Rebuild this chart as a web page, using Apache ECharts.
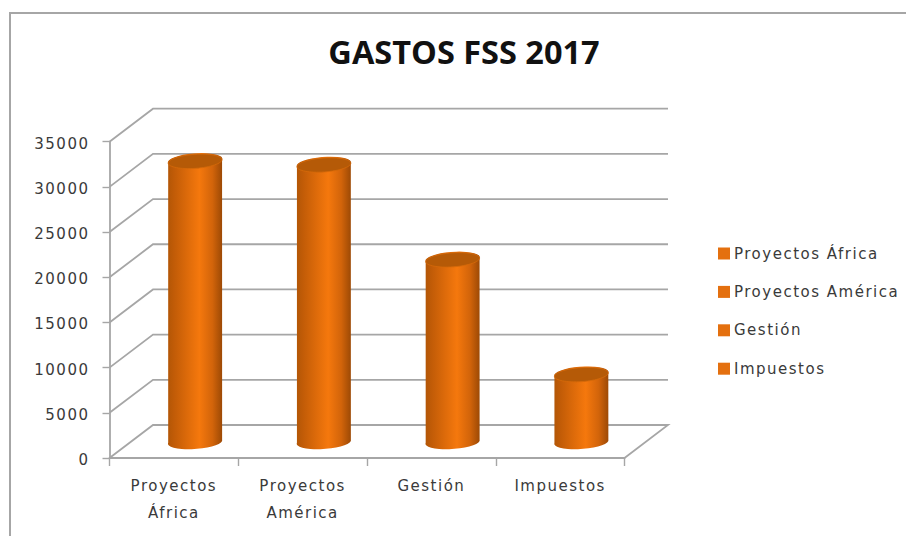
<!DOCTYPE html>
<html><head><meta charset="utf-8">
<script src="https://cdn.jsdelivr.net/npm/echarts@6/dist/echarts.min.js"></script>
<style>
html,body{margin:0;padding:0;background:#fff}
#c{width:906px;height:536px}
svg text{letter-spacing:1.5px}
svg text[style*="bold"]{letter-spacing:0}
</style></head><body><div id="c"></div>
<script>
var categories = ['Proyectos África','Proyectos América','Gestión','Impuestos'];
var axisLabels = ['Proyectos\nÁfrica','Proyectos\nAmérica','Gestión','Impuestos'];
var gastos = [31000,30600,20100,7400];
var yTicks = [0,5000,10000,15000,20000,25000,30000,35000];
var DX = 43.5, DY = 33;
var GRAY = '#a6a6a6';
var chart = echarts.init(document.getElementById('c'), null, {renderer:'svg'});

function wallItem(params, api){
  var cs = params.coordSys;
  var p = api.coord([categories[0], api.value(0)]);
  var y = p[1], x0 = cs.x, x1 = cs.x + cs.width;
  var pts = api.value(0) === 0
    ? [[x0,y],[x0+DX,y-DY],[x1+DX,y-DY],[x1,y]]
    : [[x0,y],[x0+DX,y-DY],[x1+DX,y-DY]];
  return {type:'polyline', shape:{points:pts}, style:{fill:'none', stroke:GRAY, lineWidth:1.8}, silent:true};
}
function cylItem(params, api){
  var top = api.coord([api.value(0), api.value(1)]);
  var base = api.coord([api.value(0), 0]);
  var cx = top[0] + DX/2 - 0.5, yt = top[1] - DY/2, yb = base[1] - DY/2 - 0.5;
  var rx = 27, ry = 7, tilt = 1.8;
  var d = 'M'+(cx-rx)+' '+(yt+tilt)+' L'+(cx-rx)+' '+(yb+tilt)
        + ' A'+rx+' '+ry+' -4 0 0 '+(cx+rx)+' '+(yb-tilt)
        + ' L'+(cx+rx)+' '+(yt-tilt)
        + ' A'+rx+' '+ry+' -4 0 0 '+(cx-rx)+' '+(yt+tilt)+' Z';
  return {type:'group', children:[
    {type:'path', shape:{pathData:d, layout:'cover', x:cx-rx, y:yt-ry, width:2*rx, height:yb-yt+2*ry},
     style:{fill:new echarts.graphic.LinearGradient(0,0,1,0,[
       {offset:0,color:'#b35606'},{offset:0.12,color:'#c25c07'},{offset:0.35,color:'#dc6a0a'},{offset:0.58,color:'#f5780d'},
       {offset:0.82,color:'#d2640a'},{offset:1,color:'#9c4905'}])}},
    {type:'ellipse', shape:{cx:0,cy:0,rx:rx,ry:ry}, x:cx, y:yt, rotation:4*Math.PI/180,
     style:{fill:'#b55a07', stroke:'#d66a0a', lineWidth:0.8}}
  ]};
}
var series = [{
  type:'custom', name:'paredes', silent:true, z:1,
  data:yTicks.map(function(v){return [v];}),
  encode:{y:0}, renderItem:wallItem, animation:false
}];
categories.forEach(function(c,i){
  series.push({
    type:'custom', name:c, z:3, animation:false,
    itemStyle:{color:'#e4700f'},
    data:[[c,gastos[i]]], encode:{x:0,y:1}, renderItem:cylItem
  });
});
chart.setOption({
  animation:false,
  backgroundColor:'#ffffff',
  title:{text:'GASTOS FSS 2017', left:459, top:30, textAlign:'center',
    textStyle:{fontFamily:'Open Sans',fontWeight:'bold',fontSize:32.5,color:'#111'}},
  legend:{orient:'vertical', left:713, top:241, itemWidth:12, itemHeight:12, itemGap:23.4, icon:'rect',
    data:categories, selectedMode:false,
    textStyle:{fontFamily:'DejaVu Sans',fontSize:15,color:'#3a3a3a',padding:[0,0,0,-1]}},
  grid:{left:109.5, right:281.5, top:141.7, bottom:78},
  xAxis:{type:'category', data:categories,
    axisLine:{lineStyle:{color:GRAY,width:1.8}},
    axisTick:{show:true,length:8,lineStyle:{color:GRAY,width:1.4}},
    axisLabel:{interval:0, margin:14, lineHeight:27, color:'#3a3a3a', fontFamily:'DejaVu Sans', fontSize:15,
      formatter:function(v){return axisLabels[categories.indexOf(v)];}}},
  yAxis:{type:'value', min:0, max:35000, interval:5000,
    axisLine:{show:true,lineStyle:{color:GRAY,width:1.8}},
    axisTick:{show:true,length:7,lineStyle:{color:GRAY,width:1.4}},
    splitLine:{show:false},
    axisLabel:{margin:20,formatter:function(v){return '{a|'+v+'}';},
      rich:{a:{color:'#3a3a3a',fontFamily:'DejaVu Sans',fontSize:15,padding:[4,0,0,0]}}}},
  series:series,
  graphic:[{type:'polyline', silent:true, z:-1,
    shape:{points:[[10,536],[10,13],[906,13]]}, style:{fill:'none',stroke:GRAY,lineWidth:2}}]
});
</script></body></html>
